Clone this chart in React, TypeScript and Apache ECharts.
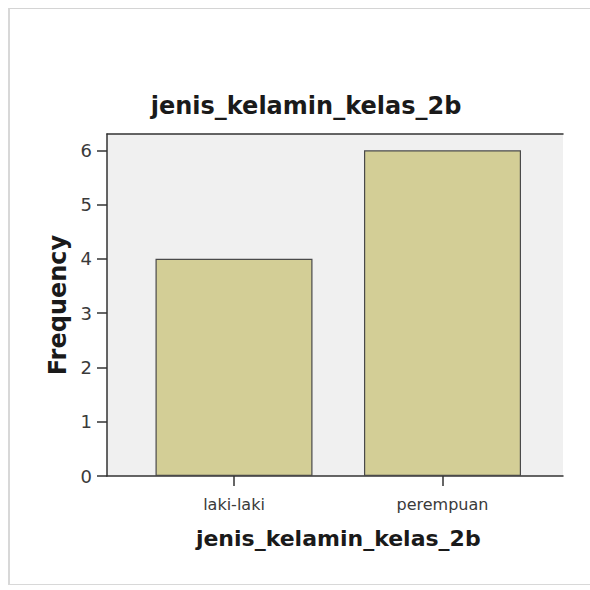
import React, { useEffect, useRef } from "react";
import * as echarts from "echarts";

const titleText = "jenis_kelamin_kelas_2b";
const categories = ["laki-laki", "perempuan"];
const frequencies = [4, 6];
const yTicks = [0, 1, 2, 3, 4, 5, 6];
const yAxisName = "Frequency";
const xAxisName = "jenis_kelamin_kelas_2b";

export default function App() {
  const ref = useRef<HTMLDivElement>(null);
  useEffect(() => {
    if (!ref.current) return;
    const chart = echarts.init(ref.current, undefined, { renderer: "svg" });
    const font = "DejaVu Sans";
    const axisLine = { show: true, lineStyle: { color: "#333", width: 1.5 } };
    chart.setOption({
      animation: false,
      backgroundColor: "#ffffff",
      title: {
        text: titleText,
        left: 291,
        textAlign: "center",
        top: 80,
        textStyle: { fontFamily: font, fontSize: 24, fontWeight: "bold", color: "#1a1a1a" },
      },
      grid: [
        { left: 97, top: 125, width: 456, height: 342, show: true, backgroundColor: "#f0f0f0", borderWidth: 0 },
        { left: 119.75, top: 125, width: 417, height: 342, show: false },
      ],
      xAxis: [
        { type: "value", gridIndex: 0, min: 0, max: 1, position: "bottom", axisLine, axisTick: { show: false }, axisLabel: { show: false }, splitLine: { show: false } },
        { type: "value", gridIndex: 0, min: 0, max: 1, position: "top", axisLine, axisTick: { show: false }, axisLabel: { show: false }, splitLine: { show: false } },
        {
          type: "category",
          gridIndex: 1,
          data: categories,
          position: "bottom",
          axisLine: { show: false },
          axisTick: { show: true, alignWithLabel: true, length: 10, lineStyle: { color: "#333", width: 1.5 } },
          axisLabel: { margin: 20, fontFamily: font, fontSize: 16, color: "#3a3a3a" },
          name: xAxisName,
          nameLocation: "middle",
          nameGap: 51,
          nameTextStyle: { fontFamily: font, fontSize: 22, fontWeight: "bold", color: "#1a1a1a" },
        },
      ],
      yAxis: [
        {
          type: "value",
          gridIndex: 0,
          min: 0,
          max: 6.3,
          interval: 1,
          axisLine,
          axisTick: { show: true, length: 10, customValues: yTicks, lineStyle: { color: "#333", width: 1.5 } },
          axisLabel: {
            customValues: yTicks,
            margin: 15,
            fontFamily: font,
            fontSize: 18,
            color: "#3a3a3a",
            formatter: (v: number) => (Number.isInteger(v) ? String(v) : ""),
          },
          splitLine: { show: false },
          name: yAxisName,
          nameLocation: "middle",
          nameGap: 33,
          nameRotate: 90,
          nameTextStyle: { fontFamily: font, fontSize: 24, fontWeight: "bold", color: "#1a1a1a" },
        },
        { type: "value", gridIndex: 1, min: 0, max: 6.3, show: false },
      ],
      series: [
        {
          type: "bar",
          xAxisIndex: 2,
          yAxisIndex: 1,
          data: frequencies,
          barCategoryGap: "24.7%",
          itemStyle: { color: "#d3ce96", borderColor: "#4a4a4a", borderWidth: 1.2 },
        },
      ],
    });
    return () => chart.dispose();
  }, []);
  return (
    <div
      ref={ref}
      style={{
        position: "fixed",
        left: 8,
        top: 8,
        width: 600,
        height: 577,
        borderTop: "1px solid #d4d4d4",
        borderLeft: "2px solid #d8d8d8",
        borderBottom: "1px solid #d8d8d8",
        borderRight: "none",
        boxSizing: "border-box",
      }}
    />
  );
}
